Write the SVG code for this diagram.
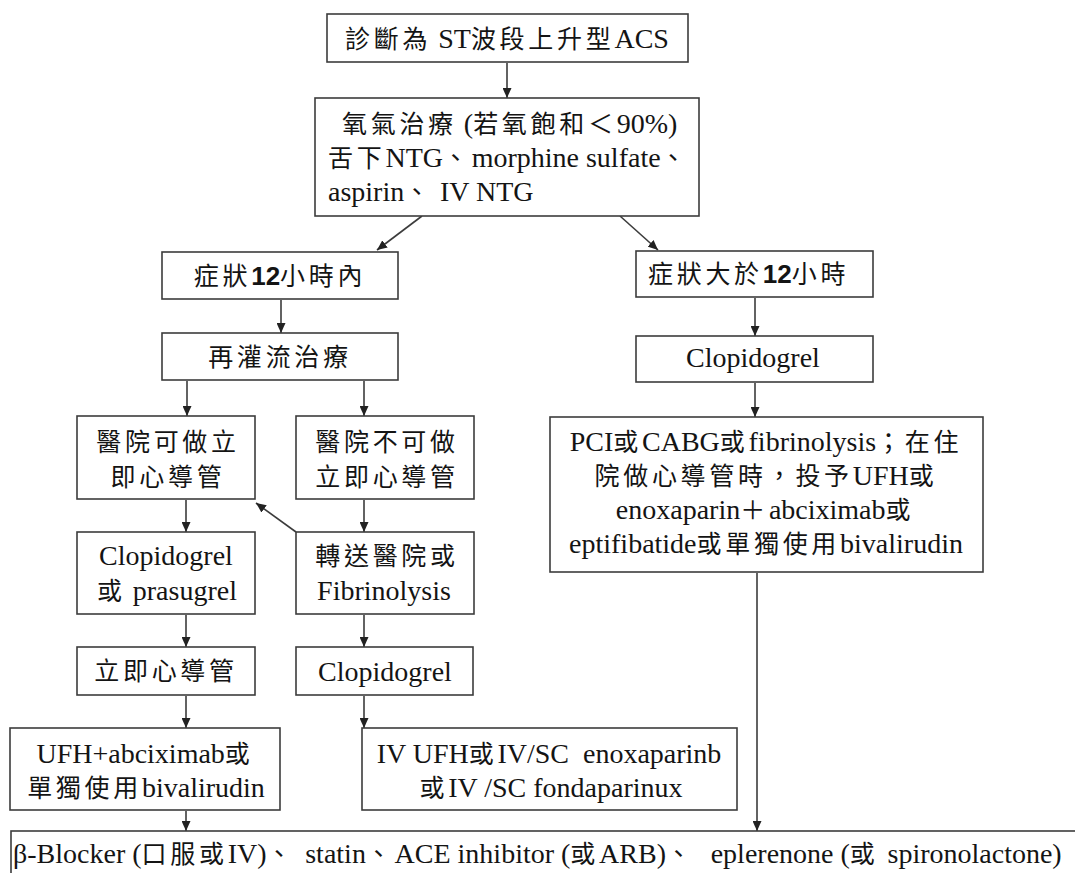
<svg xmlns="http://www.w3.org/2000/svg" width="1075" height="873" viewBox="0 0 1075 873">
<style>
.box{fill:#fff;stroke:#3c3c3c;stroke-width:1.6}
.t{font-family:"Liberation Serif","Noto Sans CJK TC",serif;font-size:28px;fill:#141414}
.c{font-family:"Noto Sans CJK TC","Noto Sans CJK JP",sans-serif;font-size:25px;letter-spacing:3.7px}
.a{font-family:"Liberation Sans",sans-serif;font-size:26px;font-weight:bold}
.m{text-anchor:middle}
.ln{stroke:#3c3c3c;stroke-width:1.6;fill:none;marker-end:url(#ah)}
</style>
<defs>
<marker id="ah" markerUnits="userSpaceOnUse" markerWidth="10" markerHeight="9" refX="10" refY="4.5" orient="auto">
<path d="M0,0 L10,4.5 L0,9 z" fill="#222"/>
</marker>
</defs>
<rect width="1075" height="873" fill="#fff"/>
<g id="connectors">
<line class="ln" x1="507" y1="63" x2="507" y2="98"/>
<line class="ln" x1="422" y1="216" x2="377" y2="250"/>
<line class="ln" x1="620" y1="216" x2="658" y2="250"/>
<line class="ln" x1="281" y1="300" x2="281" y2="333"/>
<line class="ln" x1="187" y1="381" x2="187" y2="416"/>
<line class="ln" x1="364" y1="381" x2="364" y2="416"/>
<line class="ln" x1="186" y1="500" x2="186" y2="532"/>
<line class="ln" x1="364" y1="500" x2="364" y2="532"/>
<line class="ln" x1="296" y1="532" x2="256" y2="503"/>
<line class="ln" x1="186" y1="615" x2="186" y2="647"/>
<line class="ln" x1="364" y1="615" x2="364" y2="647"/>
<line class="ln" x1="186" y1="696" x2="186" y2="728"/>
<line class="ln" x1="364" y1="696" x2="364" y2="728"/>
<line class="ln" x1="186" y1="811" x2="186" y2="831"/>
<line class="ln" x1="755" y1="298" x2="755" y2="336"/>
<line class="ln" x1="755" y1="383" x2="755" y2="417"/>
<line class="ln" x1="757" y1="573" x2="757" y2="831"/>
</g>
<g id="n1">
<rect class="box" x="327" y="14" width="361" height="48"/>
<text class="t m" x="507" y="48"><tspan class="c">診斷為</tspan> ST<tspan class="c">波段上升型</tspan>ACS</text>
</g>
<g id="n2">
<rect class="box" x="315" y="98" width="384" height="118"/>
<text class="t" x="342" y="133"><tspan class="c">氧氣治療</tspan> (<tspan class="c">若氧飽和＜</tspan>90%)</text>
<text class="t" x="328" y="167"><tspan class="c">舌下</tspan>NTG<tspan class="c">、</tspan>morphine sulfate<tspan class="c">、</tspan></text>
<text class="t" x="328" y="201">aspirin<tspan class="c">、</tspan> IV NTG</text>
</g>
<g id="n3">
<rect class="box" x="162" y="252" width="236" height="47"/>
<text class="t m" x="280" y="285"><tspan class="c">症狀</tspan><tspan class="a">12</tspan><tspan class="c">小時內</tspan></text>
</g>
<g id="n4">
<rect class="box" x="162" y="333" width="236" height="47"/>
<text class="t m" x="280" y="366"><tspan class="c">再灌流治療</tspan></text>
</g>
<g id="n5">
<rect class="box" x="77" y="416" width="178" height="83"/>
<text class="t m" x="168" y="451"><tspan class="c">醫院可做立</tspan></text>
<text class="t m" x="168" y="486"><tspan class="c">即心導管</tspan></text>
</g>
<g id="n6">
<rect class="box" x="296" y="416" width="178" height="83"/>
<text class="t m" x="387" y="451"><tspan class="c">醫院不可做</tspan></text>
<text class="t m" x="387" y="486"><tspan class="c">立即心導管</tspan></text>
</g>
<g id="n7">
<rect class="box" x="77" y="532" width="178" height="82"/>
<text class="t m" x="166" y="565">Clopidogrel</text>
<text class="t m" x="167" y="600"><tspan class="c">或</tspan> prasugrel</text>
</g>
<g id="n8">
<rect class="box" x="296" y="532" width="178" height="82"/>
<text class="t m" x="387" y="565"><tspan class="c">轉送醫院或</tspan></text>
<text class="t m" x="384" y="600">Fibrinolysis</text>
</g>
<g id="n9">
<rect class="box" x="77" y="647" width="178" height="48"/>
<text class="t m" x="166" y="680"><tspan class="c">立即心導管</tspan></text>
</g>
<g id="n10">
<rect class="box" x="296" y="647" width="177" height="48"/>
<text class="t m" x="385" y="681">Clopidogrel</text>
</g>
<g id="n11">
<rect class="box" x="10" y="728" width="270" height="82"/>
<text class="t m" x="145" y="763">UFH+abciximab<tspan class="c">或</tspan></text>
<text class="t m" x="146" y="797"><tspan class="c">單獨使用</tspan>bivalirudin</text>
</g>
<g id="n12">
<rect class="box" x="362" y="728" width="375" height="82"/>
<text class="t m" x="549" y="763">IV UFH<tspan class="c">或</tspan>IV/SC&#160; enoxaparinb</text>
<text class="t m" x="551" y="797"><tspan class="c">或</tspan>IV /SC fondaparinux</text>
</g>
<g id="n13">
<rect class="box" x="636" y="251" width="237" height="46"/>
<text class="t" x="648" y="283"><tspan class="c">症狀大於</tspan><tspan class="a">12</tspan><tspan class="c">小時</tspan></text>
</g>
<g id="n14">
<rect class="box" x="636" y="336" width="237" height="46"/>
<text class="t m" x="753" y="367">Clopidogrel</text>
</g>
<g id="n15">
<rect class="box" x="550" y="417" width="433" height="155"/>
<text class="t m" x="766" y="451">PCI<tspan class="c">或</tspan>CABG<tspan class="c">或</tspan>fibrinolysis<tspan class="c">；在住</tspan></text>
<text class="t m" x="766" y="485"><tspan class="c">院做心導管時，投予</tspan>UFH<tspan class="c">或</tspan></text>
<text class="t m" x="765" y="519">enoxaparin<tspan class="c">＋</tspan>abciximab<tspan class="c">或</tspan></text>
<text class="t m" x="766" y="553">eptifibatide<tspan class="c">或單獨使用</tspan>bivalirudin</text>
</g>
<g id="n16">
<rect class="box" x="11" y="831" width="1080" height="60"/>
<text class="t" x="13" y="863">β-Blocker (<tspan class="c">口服或</tspan>IV)<tspan class="c">、</tspan><tspan dx="10">statin</tspan><tspan class="c">、</tspan>ACE inhibitor (<tspan class="c">或</tspan>ARB)<tspan class="c">、</tspan><tspan dx="16">eplerenone (</tspan><tspan class="c">或</tspan><tspan dx="9">spironolactone)</tspan></text>
</g>
</svg>
